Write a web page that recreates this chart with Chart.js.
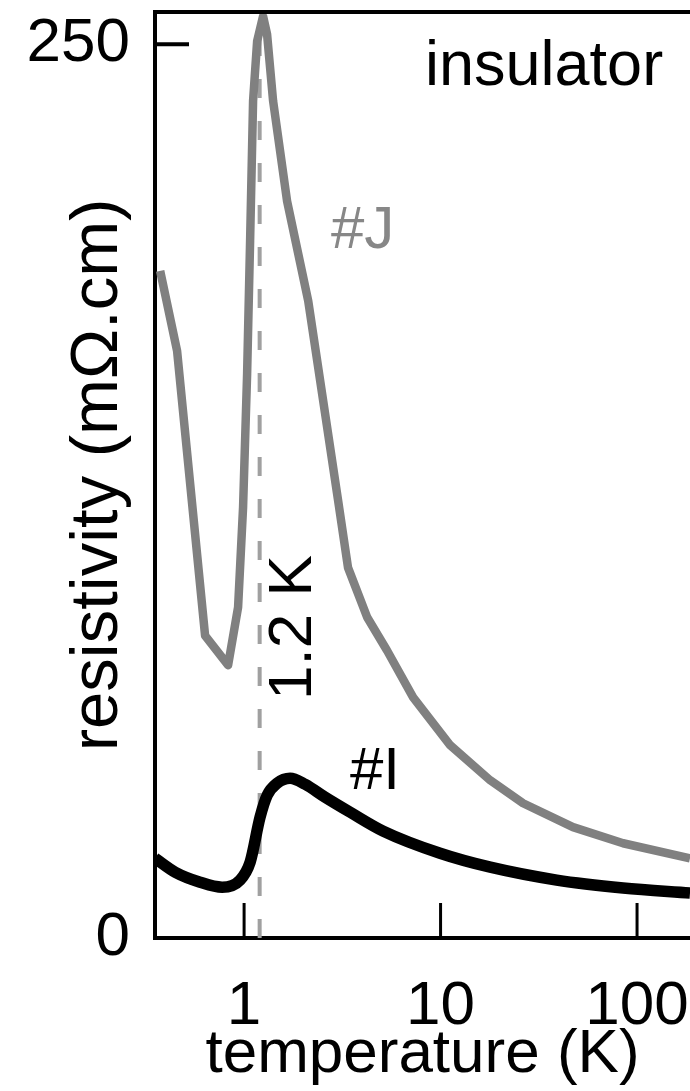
<!DOCTYPE html>
<html>
<head>
<meta charset="utf-8">
<title>resistivity vs temperature</title>
<script src="https://cdn.jsdelivr.net/npm/chart.js@4.4.1/dist/chart.umd.min.js"></script>
<style>
  body { margin: 0; background: #fff; }
  #wrap { width: 690px; height: 1091px; }
</style>
</head>
<body>
<div id="wrap"><canvas id="rhoChart" width="690" height="1091"></canvas></div>
<script>
// sample #J (grey curve), temperature in K, resistivity in mOhm.cm
const tempJ = [0.374, 0.456, 0.633, 0.829, 0.932, 0.988, 1.036, 1.073, 1.111, 1.165, 1.249, 1.309,
               1.405, 1.655, 2.12, 3.01, 3.38, 4.23, 5.34, 7.25, 11.2, 17.9, 26.3, 47.2, 84.9, 186];
const rhoJ  = [186.6, 164.2, 84.6, 76.3, 92.5, 120.4, 157.8, 195.0, 234.1, 250.8, 257.8, 252.8,
               234.1, 206.1, 178.2, 122.3, 103.6, 89.7, 80.4, 67.3, 53.9, 44.1, 37.7, 31.0, 26.5, 22.3];

// sample #I (black curve)
const tempI = [0.352, 0.446, 0.597, 0.773, 0.954, 1.073, 1.206, 1.31, 1.472, 1.715, 2.044, 2.58,
               3.46, 5.10, 9.94, 17.9, 39.0, 84.9, 186];
const rhoI  = [22.3, 18.4, 15.6, 14.2, 16.2, 21.2, 33.8, 39.9, 43.3, 44.7, 43.0, 39.4,
               35.2, 29.9, 23.7, 19.8, 16.2, 14.0, 12.6];

const xTicks = [1, 10, 100];
const yTicks = [0, 250];
const tTransition = 1.2;   // dashed marker

const FONT = "'Liberation Sans', Arial, Helvetica, sans-serif";

function toPoints(xs, ys) {
    return xs.map(function (x, i) { return { x: x, y: ys[i] }; });
}

// keep the plot box fixed: no extra room for the end tick labels
function noPadding(scale) {
    scale.paddingLeft = 0;
    scale.paddingRight = 0;
    scale.paddingTop = 0;
    scale.paddingBottom = 0;
}

// top frame line, inward tick marks and the text labels
const extras = {
    id: 'extras',
    afterDraw(chart) {
        const ctx = chart.ctx;
        const area = chart.chartArea;
        const sx = chart.scales.x;
        const sy = chart.scales.y;
        ctx.save();
        ctx.strokeStyle = '#000';
        ctx.lineWidth = 4;
        ctx.beginPath();
        ctx.moveTo(area.left - 2, area.top);
        ctx.lineTo(area.right, area.top);
        ctx.stroke();

        ctx.lineWidth = 3;
        xTicks.forEach(function (v) {
            const px = sx.getPixelForValue(v);
            ctx.beginPath();
            ctx.moveTo(px, area.bottom);
            ctx.lineTo(px, area.bottom - 35);
            ctx.stroke();
        });
        ctx.lineWidth = 4;
        yTicks.forEach(function (v) {
            if (v === 0) return;
            const py = sy.getPixelForValue(v);
            ctx.beginPath();
            ctx.moveTo(area.left, py);
            ctx.lineTo(area.left + 34, py);
            ctx.stroke();
        });

        ctx.fillStyle = '#000';
        ctx.textBaseline = 'alphabetic';
        ctx.font = '63px ' + FONT;
        ctx.textAlign = 'left';
        ctx.fillText('insulator', 425, 85);
        ctx.font = '60px ' + FONT;
        ctx.fillText('#I', 350, 789);
        ctx.fillStyle = '#878787';
        ctx.fillText('#J', 331, 248);

        // axis titles
        ctx.fillStyle = '#000';
        ctx.font = '62px ' + FONT;
        ctx.textAlign = 'center';
        ctx.fillText('temperature (K)', (area.left + area.right) / 2, 1072);

        ctx.save();
        ctx.translate(117, (area.top + area.bottom) / 2);
        ctx.rotate(-Math.PI / 2);
        ctx.font = '67px ' + FONT;
        ctx.fillText('resistivity (mΩ.cm)', 0, 0);
        ctx.restore();

        // label for the dashed line
        ctx.save();
        ctx.translate(sx.getPixelForValue(tTransition) + 51, 700);
        ctx.rotate(-Math.PI / 2);
        ctx.font = '62px ' + FONT;
        ctx.textAlign = 'left';
        ctx.fillText('1.2 K', 0, 0);
        ctx.restore();

        ctx.restore();
    }
};

const ctx = document.getElementById('rhoChart').getContext('2d');
new Chart(ctx, {
    type: 'scatter',
    data: {
        datasets: [
            {
                label: '#I',
                data: toPoints(tempI, rhoI),
                showLine: true,
                borderColor: '#000',
                borderWidth: 11.5,
                pointRadius: 0,
                cubicInterpolationMode: 'monotone',
                borderJoinStyle: 'round'
            },
            {
                label: '#J',
                data: toPoints(tempJ, rhoJ),
                showLine: true,
                borderColor: '#808080',
                borderWidth: 8.5,
                pointRadius: 0,
                tension: 0,
                borderJoinStyle: 'round'
            },
            {
                label: '1.2 K',
                data: [{ x: tTransition, y: 0 }, { x: tTransition, y: 259 }],
                showLine: true,
                borderColor: '#a0a0a0',
                borderWidth: 4,
                borderDash: [19, 23],
                pointRadius: 0
            }
        ]
    },
    options: {
        responsive: false,
        animation: false,
        layout: { padding: { top: 12, left: 0, right: 0, bottom: 0 } },
        plugins: {
            legend: { display: false },
            tooltip: { enabled: false }
        },
        scales: {
            x: {
                type: 'logarithmic',
                min: 0.352,
                max: 186,
                afterBuildTicks: function (scale) {
                    scale.ticks = xTicks.map(function (v) { return { value: v }; });
                },
                afterFit: function (scale) {
                    scale.height = 153;
                    noPadding(scale);
                },
                ticks: {
                    color: '#000',
                    padding: 32,
                    maxRotation: 0,
                    autoSkip: false,
                    font: { family: FONT, size: 62 },
                    callback: function (v) { return String(v); }
                },
                grid: { drawOnChartArea: false, drawTicks: false },
                border: { color: '#000', width: 4 }
            },
            y: {
                min: 0,
                max: 259,
                afterBuildTicks: function (scale) {
                    scale.ticks = yTicks.map(function (v) { return { value: v }; });
                },
                afterFit: function (scale) {
                    scale.width = 155;
                    noPadding(scale);
                },
                ticks: {
                    color: '#000',
                    padding: 25,
                    font: { family: FONT, size: 62 }
                },
                grid: { drawOnChartArea: false, drawTicks: false },
                border: { color: '#000', width: 4 }
            }
        }
    },
    plugins: [extras]
});
</script>
</body>
</html>
